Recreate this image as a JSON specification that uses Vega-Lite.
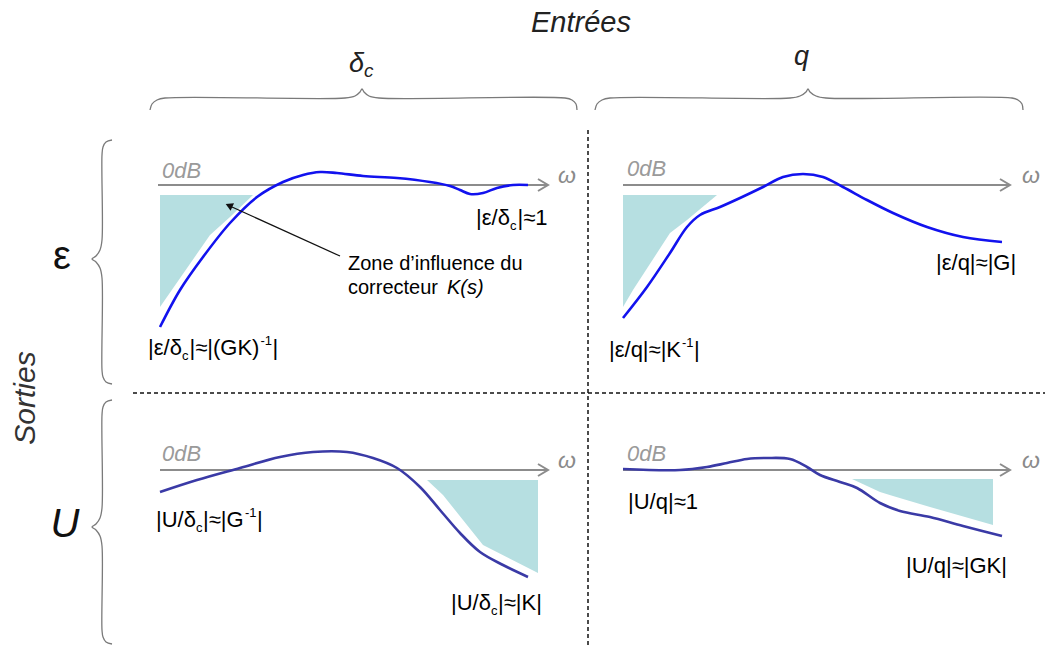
{
  "$schema": "https://vega.github.io/schema/vega-lite/v6.json",
  "width": 1057,
  "height": 652,
  "autosize": {"type": "fit", "contains": "padding"},
  "padding": 0,
  "background": "white",
  "config": {"view": {"stroke": null}, "font": "Arial, Liberation Sans, sans-serif"},
  "datasets": {
    "curves": [
      {"id": "a", "out": "e", "x": 160, "y": 327}, {"id": "a", "out": "e", "x": 180, "y": 290}, {"id": "a", "out": "e", "x": 203, "y": 257}, {"id": "a", "out": "e", "x": 230, "y": 223}, {"id": "a", "out": "e", "x": 257, "y": 197}, {"id": "a", "out": "e", "x": 283, "y": 182}, {"id": "a", "out": "e", "x": 303, "y": 175}, {"id": "a", "out": "e", "x": 320, "y": 172}, {"id": "a", "out": "e", "x": 337, "y": 173}, {"id": "a", "out": "e", "x": 363, "y": 176}, {"id": "a", "out": "e", "x": 397, "y": 178}, {"id": "a", "out": "e", "x": 430, "y": 182}, {"id": "a", "out": "e", "x": 450, "y": 186}, {"id": "a", "out": "e", "x": 460, "y": 190}, {"id": "a", "out": "e", "x": 470, "y": 194}, {"id": "a", "out": "e", "x": 483, "y": 193}, {"id": "a", "out": "e", "x": 497, "y": 188}, {"id": "a", "out": "e", "x": 513, "y": 185}, {"id": "a", "out": "e", "x": 528, "y": 185},
      {"id": "b", "out": "e", "x": 623, "y": 318}, {"id": "b", "out": "e", "x": 647, "y": 287}, {"id": "b", "out": "e", "x": 670, "y": 253}, {"id": "b", "out": "e", "x": 687, "y": 227}, {"id": "b", "out": "e", "x": 700, "y": 215}, {"id": "b", "out": "e", "x": 720, "y": 207}, {"id": "b", "out": "e", "x": 740, "y": 198}, {"id": "b", "out": "e", "x": 763, "y": 187}, {"id": "b", "out": "e", "x": 783, "y": 177}, {"id": "b", "out": "e", "x": 803, "y": 174}, {"id": "b", "out": "e", "x": 823, "y": 177}, {"id": "b", "out": "e", "x": 843, "y": 187}, {"id": "b", "out": "e", "x": 867, "y": 200}, {"id": "b", "out": "e", "x": 893, "y": 213}, {"id": "b", "out": "e", "x": 927, "y": 227}, {"id": "b", "out": "e", "x": 963, "y": 237}, {"id": "b", "out": "e", "x": 1002, "y": 242},
      {"id": "c", "out": "u", "x": 160, "y": 492}, {"id": "c", "out": "u", "x": 197, "y": 480}, {"id": "c", "out": "u", "x": 240, "y": 468}, {"id": "c", "out": "u", "x": 280, "y": 457}, {"id": "c", "out": "u", "x": 313, "y": 452}, {"id": "c", "out": "u", "x": 347, "y": 452}, {"id": "c", "out": "u", "x": 373, "y": 458}, {"id": "c", "out": "u", "x": 397, "y": 468}, {"id": "c", "out": "u", "x": 420, "y": 487}, {"id": "c", "out": "u", "x": 440, "y": 510}, {"id": "c", "out": "u", "x": 460, "y": 533}, {"id": "c", "out": "u", "x": 480, "y": 552}, {"id": "c", "out": "u", "x": 503, "y": 565}, {"id": "c", "out": "u", "x": 528, "y": 577},
      {"id": "d", "out": "u", "x": 623, "y": 469}, {"id": "d", "out": "u", "x": 680, "y": 470}, {"id": "d", "out": "u", "x": 707, "y": 467}, {"id": "d", "out": "u", "x": 727, "y": 463}, {"id": "d", "out": "u", "x": 747, "y": 459}, {"id": "d", "out": "u", "x": 767, "y": 458}, {"id": "d", "out": "u", "x": 790, "y": 459}, {"id": "d", "out": "u", "x": 807, "y": 467}, {"id": "d", "out": "u", "x": 820, "y": 475}, {"id": "d", "out": "u", "x": 840, "y": 482}, {"id": "d", "out": "u", "x": 857, "y": 488}, {"id": "d", "out": "u", "x": 880, "y": 503}, {"id": "d", "out": "u", "x": 900, "y": 511}, {"id": "d", "out": "u", "x": 930, "y": 517}, {"id": "d", "out": "u", "x": 963, "y": 526}, {"id": "d", "out": "u", "x": 1002, "y": 536}
    ],
    "shades": [
      {"id": "a", "x": 160, "y": 307, "y2": 195}, {"id": "a", "x": 210, "y": 235, "y2": 195}, {"id": "a", "x": 230, "y": 217, "y2": 195}, {"id": "a", "x": 253, "y": 195, "y2": 195},
      {"id": "b", "x": 623, "y": 307, "y2": 195}, {"id": "b", "x": 633, "y": 290, "y2": 195}, {"id": "b", "x": 670, "y": 233, "y2": 195}, {"id": "b", "x": 687, "y": 220, "y2": 195}, {"id": "b", "x": 717, "y": 195, "y2": 195},
      {"id": "c", "x": 427, "y": 480, "y2": 480}, {"id": "c", "x": 443, "y": 495, "y2": 480}, {"id": "c", "x": 463, "y": 520, "y2": 480}, {"id": "c", "x": 483, "y": 545, "y2": 480}, {"id": "c", "x": 538, "y": 573, "y2": 480},
      {"id": "d", "x": 852, "y": 479, "y2": 479}, {"id": "d", "x": 880, "y": 492, "y2": 479}, {"id": "d", "x": 893, "y": 496, "y2": 479}, {"id": "d", "x": 930, "y": 507, "y2": 479}, {"id": "d", "x": 993, "y": 525, "y2": 479}
    ],
    "axes": [
      {"id": "ax1", "o": 0, "x": 158, "y": 185}, {"id": "ax1", "o": 1, "x": 548, "y": 185},
      {"id": "ah1", "o": 0, "x": 538, "y": 179}, {"id": "ah1", "o": 1, "x": 548, "y": 185}, {"id": "ah1", "o": 2, "x": 538, "y": 191},
      {"id": "ax2", "o": 0, "x": 623, "y": 185}, {"id": "ax2", "o": 1, "x": 1010, "y": 185},
      {"id": "ah2", "o": 0, "x": 1000, "y": 179}, {"id": "ah2", "o": 1, "x": 1010, "y": 185}, {"id": "ah2", "o": 2, "x": 1000, "y": 191},
      {"id": "ax3", "o": 0, "x": 160, "y": 470}, {"id": "ax3", "o": 1, "x": 548, "y": 470},
      {"id": "ah3", "o": 0, "x": 538, "y": 464}, {"id": "ah3", "o": 1, "x": 548, "y": 470}, {"id": "ah3", "o": 2, "x": 538, "y": 476},
      {"id": "ax4", "o": 0, "x": 623, "y": 470}, {"id": "ax4", "o": 1, "x": 1010, "y": 470},
      {"id": "ah4", "o": 0, "x": 1000, "y": 464}, {"id": "ah4", "o": 1, "x": 1010, "y": 470}, {"id": "ah4", "o": 2, "x": 1000, "y": 476}
    ],
    "braces": [
      {"id": "t1", "o": 0, "x": 150, "y": 110}, {"id": "t1", "o": 1, "x": 152, "y": 104}, {"id": "t1", "o": 2, "x": 157, "y": 100}, {"id": "t1", "o": 3, "x": 165, "y": 98}, {"id": "t1", "o": 4, "x": 345, "y": 98}, {"id": "t1", "o": 5, "x": 355, "y": 96}, {"id": "t1", "o": 6, "x": 360, "y": 92}, {"id": "t1", "o": 7, "x": 362, "y": 89}, {"id": "t1", "o": 8, "x": 364, "y": 92}, {"id": "t1", "o": 9, "x": 369, "y": 96}, {"id": "t1", "o": 10, "x": 379, "y": 98}, {"id": "t1", "o": 11, "x": 565, "y": 98}, {"id": "t1", "o": 12, "x": 572, "y": 100}, {"id": "t1", "o": 13, "x": 576, "y": 104}, {"id": "t1", "o": 14, "x": 577, "y": 110},
      {"id": "t2", "o": 0, "x": 595, "y": 110}, {"id": "t2", "o": 1, "x": 597, "y": 104}, {"id": "t2", "o": 2, "x": 602, "y": 100}, {"id": "t2", "o": 3, "x": 610, "y": 98}, {"id": "t2", "o": 4, "x": 790, "y": 98}, {"id": "t2", "o": 5, "x": 800, "y": 96}, {"id": "t2", "o": 6, "x": 806, "y": 92}, {"id": "t2", "o": 7, "x": 808, "y": 89}, {"id": "t2", "o": 8, "x": 810, "y": 92}, {"id": "t2", "o": 9, "x": 816, "y": 96}, {"id": "t2", "o": 10, "x": 826, "y": 98}, {"id": "t2", "o": 11, "x": 1012, "y": 98}, {"id": "t2", "o": 12, "x": 1018, "y": 100}, {"id": "t2", "o": 13, "x": 1022, "y": 104}, {"id": "t2", "o": 14, "x": 1023, "y": 110},
      {"id": "l1", "o": 0, "x": 112, "y": 140}, {"id": "l1", "o": 1, "x": 106, "y": 142}, {"id": "l1", "o": 2, "x": 103, "y": 147}, {"id": "l1", "o": 3, "x": 102, "y": 155}, {"id": "l1", "o": 4, "x": 102, "y": 240}, {"id": "l1", "o": 5, "x": 100, "y": 250}, {"id": "l1", "o": 6, "x": 96, "y": 256}, {"id": "l1", "o": 7, "x": 92, "y": 259}, {"id": "l1", "o": 8, "x": 96, "y": 262}, {"id": "l1", "o": 9, "x": 100, "y": 268}, {"id": "l1", "o": 10, "x": 102, "y": 278}, {"id": "l1", "o": 11, "x": 102, "y": 370}, {"id": "l1", "o": 12, "x": 103, "y": 377}, {"id": "l1", "o": 13, "x": 106, "y": 382}, {"id": "l1", "o": 14, "x": 112, "y": 384},
      {"id": "l2", "o": 0, "x": 112, "y": 400}, {"id": "l2", "o": 1, "x": 106, "y": 402}, {"id": "l2", "o": 2, "x": 103, "y": 407}, {"id": "l2", "o": 3, "x": 102, "y": 415}, {"id": "l2", "o": 4, "x": 102, "y": 508}, {"id": "l2", "o": 5, "x": 100, "y": 518}, {"id": "l2", "o": 6, "x": 96, "y": 524}, {"id": "l2", "o": 7, "x": 92, "y": 527}, {"id": "l2", "o": 8, "x": 96, "y": 530}, {"id": "l2", "o": 9, "x": 100, "y": 536}, {"id": "l2", "o": 10, "x": 102, "y": 546}, {"id": "l2", "o": 11, "x": 102, "y": 630}, {"id": "l2", "o": 12, "x": 103, "y": 637}, {"id": "l2", "o": 13, "x": 106, "y": 642}, {"id": "l2", "o": 14, "x": 112, "y": 644}
    ],
    "dashes": [
      {"id": "v", "o": 0, "x": 588, "y": 130}, {"id": "v", "o": 1, "x": 588, "y": 648},
      {"id": "h", "o": 0, "x": 133, "y": 393}, {"id": "h", "o": 1, "x": 1045, "y": 393}
    ],
    "pointer": [
      {"id": "p", "o": 0, "x": 340, "y": 256}, {"id": "p", "o": 1, "x": 232, "y": 207}
    ],
    "pointerhead": [{"x": 229, "y": 205.5}],
    "texts": [
      {"k": "lab", "t": "|ε/δ", "x": 148, "y": 348},
      {"k": "sub", "t": "c", "x": 182, "y": 356},
      {"k": "lab", "t": "|≈|(GK)", "x": 189.5, "y": 348},
      {"k": "sub", "t": "-1", "x": 260.5, "y": 341},
      {"k": "lab", "t": "|", "x": 272.5, "y": 348},
      {"k": "lab", "t": "|ε/δ", "x": 476, "y": 218},
      {"k": "sub", "t": "c", "x": 510, "y": 226},
      {"k": "lab", "t": "|≈1", "x": 517.5, "y": 218},
      {"k": "lab", "t": "|ε/q|≈|G|", "x": 936, "y": 263},
      {"k": "lab", "t": "|ε/q|≈|K", "x": 609, "y": 350},
      {"k": "sub", "t": "-1", "x": 682, "y": 343},
      {"k": "lab", "t": "|", "x": 694, "y": 350},
      {"k": "lab", "t": "|U/δ", "x": 156, "y": 520},
      {"k": "sub", "t": "c", "x": 196, "y": 528},
      {"k": "lab", "t": "|≈|G", "x": 203, "y": 520},
      {"k": "sub", "t": "-1", "x": 245, "y": 513},
      {"k": "lab", "t": "|", "x": 257, "y": 520},
      {"k": "lab", "t": "|U/δ", "x": 451, "y": 603},
      {"k": "sub", "t": "c", "x": 491, "y": 611},
      {"k": "lab", "t": "|≈|K|", "x": 498, "y": 603},
      {"k": "lab", "t": "|U/q|≈1", "x": 628, "y": 502},
      {"k": "lab", "t": "|U/q|≈|GK|", "x": 906, "y": 566},
      {"k": "note", "t": "Zone d’influence du", "x": 348, "y": 264},
      {"k": "note", "t": "correcteur", "x": 348, "y": 288},
      {"k": "noteit", "t": "K(s)", "x": 447, "y": 288},
      {"k": "zero", "t": "0dB", "x": 162, "y": 178},
      {"k": "zero", "t": "0dB", "x": 627, "y": 176},
      {"k": "zero", "t": "0dB", "x": 162, "y": 461},
      {"k": "zero", "t": "0dB", "x": 627, "y": 461},
      {"k": "omega", "t": "ω", "x": 567, "y": 183},
      {"k": "omega", "t": "ω", "x": 1031, "y": 183},
      {"k": "omega", "t": "ω", "x": 567, "y": 468},
      {"k": "omega", "t": "ω", "x": 1031, "y": 468},
      {"k": "ent", "t": "Entrées", "x": 531, "y": 32},
      {"k": "head", "t": "δ", "x": 349, "y": 72},
      {"k": "headsub", "t": "c", "x": 364, "y": 77},
      {"k": "head", "t": "q", "x": 794, "y": 65},
      {"k": "rowe", "t": "ε", "x": 62, "y": 257},
      {"k": "rowu", "t": "U", "x": 65, "y": 525},
      {"k": "sort", "t": "Sorties", "x": 26, "y": 398}
    ]
  },
  "encoding": {
    "x": {"field": "x", "type": "quantitative", "scale": {"domain": [0, 1057], "nice": false, "zero": false}, "axis": null},
    "y": {"field": "y", "type": "quantitative", "scale": {"domain": [0, 652], "nice": false, "zero": false, "reverse": true}, "axis": null}
  },
  "layer": [
    {
      "data": {"name": "shades"},
      "mark": {"type": "area", "color": "#b6dfe1", "opacity": 1, "interpolate": "linear"},
      "encoding": {"y2": {"field": "y2"}, "detail": {"field": "id"}}
    },
    {
      "data": {"name": "dashes"},
      "mark": {"type": "line", "color": "#111111", "strokeWidth": 1.5, "strokeDash": [4, 3]},
      "encoding": {"detail": {"field": "id"}, "order": {"field": "o"}}
    },
    {
      "data": {"name": "braces"},
      "mark": {"type": "line", "color": "#7a7a7a", "strokeWidth": 1.3, "interpolate": "catmull-rom"},
      "encoding": {"detail": {"field": "id"}, "order": {"field": "o"}}
    },
    {
      "data": {"name": "axes"},
      "mark": {"type": "line", "color": "#8c8c8c", "strokeWidth": 2},
      "encoding": {"detail": {"field": "id"}, "order": {"field": "o"}}
    },
    {
      "data": {"name": "curves"},
      "mark": {"type": "line", "strokeWidth": 2.6, "interpolate": "catmull-rom"},
      "encoding": {
        "detail": {"field": "id"},
        "color": {"field": "out", "type": "nominal", "scale": {"domain": ["e", "u"], "range": ["#1212ee", "#3a3aa6"]}, "legend": null}
      }
    },
    {
      "data": {"name": "pointer"},
      "mark": {"type": "line", "color": "#111111", "strokeWidth": 1.3},
      "encoding": {"detail": {"field": "id"}, "order": {"field": "o"}}
    },
    {
      "data": {"name": "pointerhead"},
      "mark": {"type": "point", "shape": "triangle-up", "filled": true, "color": "#111111", "size": 70, "angle": 294, "opacity": 1}
    },
    {
      "data": {"name": "texts"},
      "transform": [{"filter": "datum.k == 'lab'"}],
      "mark": {"type": "text", "fontSize": 22, "align": "left", "baseline": "middle", "color": "#000000"},
      "encoding": {"text": {"field": "t"}}
    },
    {
      "data": {"name": "texts"},
      "transform": [{"filter": "datum.k == 'sub'"}],
      "mark": {"type": "text", "fontSize": 13, "align": "left", "baseline": "middle", "color": "#000000"},
      "encoding": {"text": {"field": "t"}}
    },
    {
      "data": {"name": "texts"},
      "transform": [{"filter": "datum.k == 'note'"}],
      "mark": {"type": "text", "fontSize": 20, "align": "left", "baseline": "middle", "color": "#000000"},
      "encoding": {"text": {"field": "t"}}
    },
    {
      "data": {"name": "texts"},
      "transform": [{"filter": "datum.k == 'noteit'"}],
      "mark": {"type": "text", "fontSize": 20, "fontStyle": "italic", "align": "left", "baseline": "middle", "color": "#000000"},
      "encoding": {"text": {"field": "t"}}
    },
    {
      "data": {"name": "texts"},
      "transform": [{"filter": "datum.k == 'zero'"}],
      "mark": {"type": "text", "fontSize": 22, "fontStyle": "italic", "align": "left", "baseline": "alphabetic", "color": "#9a9a9a"},
      "encoding": {"text": {"field": "t"}}
    },
    {
      "data": {"name": "texts"},
      "transform": [{"filter": "datum.k == 'omega'"}],
      "mark": {"type": "text", "fontSize": 23, "fontStyle": "italic", "align": "center", "baseline": "alphabetic", "color": "#8a8a8a"},
      "encoding": {"text": {"field": "t"}}
    },
    {
      "data": {"name": "texts"},
      "transform": [{"filter": "datum.k == 'ent'"}],
      "mark": {"type": "text", "fontSize": 29, "fontStyle": "italic", "align": "left", "baseline": "alphabetic", "color": "#222222"},
      "encoding": {"text": {"field": "t"}}
    },
    {
      "data": {"name": "texts"},
      "transform": [{"filter": "datum.k == 'head'"}],
      "mark": {"type": "text", "fontSize": 27, "fontStyle": "italic", "align": "left", "baseline": "alphabetic", "color": "#222222"},
      "encoding": {"text": {"field": "t"}}
    },
    {
      "data": {"name": "texts"},
      "transform": [{"filter": "datum.k == 'headsub'"}],
      "mark": {"type": "text", "fontSize": 19, "fontStyle": "italic", "align": "left", "baseline": "alphabetic", "color": "#222222"},
      "encoding": {"text": {"field": "t"}}
    },
    {
      "data": {"name": "texts"},
      "transform": [{"filter": "datum.k == 'rowe'"}],
      "mark": {"type": "text", "fontSize": 40, "align": "center", "baseline": "middle", "color": "#111111"},
      "encoding": {"text": {"field": "t"}}
    },
    {
      "data": {"name": "texts"},
      "transform": [{"filter": "datum.k == 'rowu'"}],
      "mark": {"type": "text", "fontSize": 40, "fontStyle": "italic", "align": "center", "baseline": "middle", "color": "#111111"},
      "encoding": {"text": {"field": "t"}}
    },
    {
      "data": {"name": "texts"},
      "transform": [{"filter": "datum.k == 'sort'"}],
      "mark": {"type": "text", "fontSize": 30, "fontStyle": "italic", "align": "center", "baseline": "middle", "angle": 270, "color": "#333333"},
      "encoding": {"text": {"field": "t"}}
    }
  ]
}
